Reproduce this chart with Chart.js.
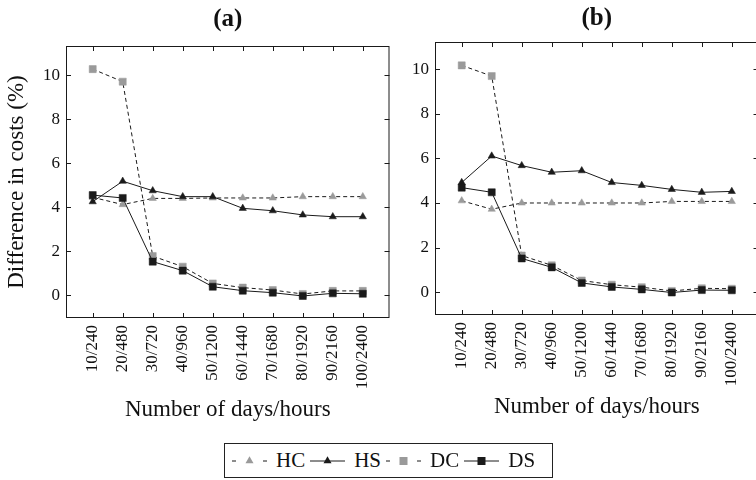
<!DOCTYPE html>
<html>
<head>
<meta charset="utf-8">
<script src="https://cdn.jsdelivr.net/npm/chart.js@4.4.1/dist/chart.umd.min.js"></script>
<style>
  body { margin: 0; width: 756px; height: 480px; overflow: hidden; background: #fff; position: relative;
         font-family: 'Liberation Serif', serif; }
  canvas { position: absolute; top: 0; }
  #chartA { left: 0; }
  #chartB { left: 376px; }
  #legend { position: absolute; left: 224px; top: 443px; width: 329px; height: 35px; border: 1px solid #222;
            display: flex; align-items: center; font-size: 21px; color: #111; box-sizing: border-box; padding-left: 7px; }
  #legend svg { flex: none; margin-right: 9px; }
  #legend span { margin-right: 5px; }
</style>
</head>
<body>
<canvas id="chartA" width="395" height="440"></canvas>
<canvas id="chartB" width="388" height="440"></canvas>
<div id="legend"></div>
<script>
// x categories and y ticks
const labels = ['10/240', '20/480', '30/720', '40/960', '50/1200', '60/1440', '70/1680', '80/1920', '90/2160', '100/2400'];
const yTicks = [0, 2, 4, 6, 8, 10];

// panel (a)
const hcA = [4.45, 4.12, 4.4, 4.4, 4.42, 4.42, 4.42, 4.48, 4.48, 4.48];
const hsA = [4.25, 5.18, 4.75, 4.48, 4.48, 3.95, 3.84, 3.65, 3.57, 3.57];
const dcA = [10.27, 9.7, 1.78, 1.3, 0.54, 0.35, 0.24, 0.06, 0.2, 0.2];
const dsA = [4.55, 4.42, 1.53, 1.12, 0.39, 0.21, 0.12, -0.03, 0.09, 0.07];

// panel (b)
const hcB = [4.1, 3.72, 4.0, 4.0, 4.0, 4.0, 4.0, 4.07, 4.07, 4.07];
const hsB = [4.92, 6.11, 5.68, 5.38, 5.45, 4.92, 4.79, 4.61, 4.48, 4.52];
const dcB = [10.18, 9.7, 1.64, 1.2, 0.52, 0.33, 0.22, 0.05, 0.17, 0.15];
const dsB = [4.69, 4.48, 1.51, 1.11, 0.41, 0.23, 0.12, -0.02, 0.09, 0.08];

const GRAY = '#9a9a9a';
const INK = '#1a1a1a';
Chart.defaults.font.family = "'Liberation Serif', serif";
Chart.defaults.color = '#111';

// box around the plot and inward ticks on all four sides
const frame = {
    id: 'frame',
    afterDatasetsDraw(chart) {
        const { ctx, chartArea: a, scales: { x, y } } = chart;
        ctx.save();
        ctx.strokeStyle = INK;
        ctx.lineWidth = 1;
        ctx.strokeRect(a.left + 0.5, a.top + 0.5, a.right - a.left - 1, a.bottom - a.top - 1);
        ctx.beginPath();
        x.ticks.forEach(t => {
            const px = Math.round(x.getPixelForValue(t.value)) + 0.5;
            ctx.moveTo(px, a.top); ctx.lineTo(px, a.top + 5);
            ctx.moveTo(px, a.bottom); ctx.lineTo(px, a.bottom - 5);
        });
        y.ticks.forEach(t => {
            const py = Math.round(y.getPixelForValue(t.value)) + 0.5;
            ctx.moveTo(a.left, py); ctx.lineTo(a.left + 5, py);
            ctx.moveTo(a.right, py); ctx.lineTo(a.right - 5, py);
        });
        ctx.stroke();
        ctx.restore();
    }
};

function series(values, gray, dashed, style, order) {
    return {
        data: values.map((v, i) => ({ x: i, y: v })),
        borderColor: INK,
        borderWidth: 1,
        borderDash: dashed ? [4, 3] : [],
        pointStyle: style,
        pointRadius: style === 'rect' ? 5 : 4.2,
        pointBackgroundColor: gray ? GRAY : INK,
        pointBorderColor: gray ? GRAY : INK,
        pointBorderWidth: 0.5,
        tension: 0,
        order: order
    };
}

function makeChart(id, title, data, cfg) {
    return new Chart(document.getElementById(id), {
        type: 'line',
        data: {
            datasets: [
                series(data[0], true, true, 'triangle', 4),
                series(data[1], false, false, 'triangle', 3),
                series(data[2], true, true, 'rect', 2),
                series(data[3], false, false, 'rect', 1)
            ]
        },
        options: {
            responsive: false,
            devicePixelRatio: 1,
            animation: false,
            events: [],
            layout: { padding: { left: 0, right: 1, top: 0, bottom: 0 } },
            plugins: {
                legend: { display: false },
                tooltip: { enabled: false },
                title: {
                    display: true, text: title, fullSize: false,
                    font: { size: 25, weight: 'bold', lineHeight: 1.2 },
                    padding: cfg.titlePad
                }
            },
            scales: {
                x: {
                    type: 'linear', min: -0.89, max: 9.89,
                    afterBuildTicks: s => { s.ticks = labels.map((l, i) => ({ value: i })); },
                    afterFit: s => { s.height = cfg.xHeight; },
                    grid: { display: false, drawTicks: false },
                    border: { display: false },
                    ticks: { callback: v => labels[v], minRotation: 90, maxRotation: 90, padding: 7,
                             font: { size: 17 }, autoSkip: false },
                    title: { display: true, text: 'Number of days/hours', font: { size: 23, lineHeight: 1.2 },
                             padding: { top: 0, bottom: cfg.xTitleBottom } }
                },
                y: {
                    min: -1.03, max: cfg.yMax,
                    afterBuildTicks: s => { s.ticks = yTicks.map(v => ({ value: v })); },
                    afterFit: s => { s.width = cfg.yWidth; },
                    grid: { display: false, drawTicks: false },
                    border: { display: false },
                    ticks: { padding: 6, font: { size: 17 } },
                    title: { display: cfg.yTitle, text: 'Difference in costs (%)', font: { size: 23, lineHeight: 1.2 },
                             padding: { top: 3.5, bottom: 0 } }
                }
            }
        },
        plugins: [frame]
    });
}

makeChart('chartA', '(a)', [hcA, hsA, dcA, dsA],
    { titlePad: { top: 5, bottom: 11 }, xHeight: 122, xTitleBottom: 16, yMax: 11.32, yWidth: 66, yTitle: true });
makeChart('chartB', '(b)', [hcB, hsB, dcB, dsB],
    { titlePad: { top: 4, bottom: 8 }, xHeight: 125, xTitleBottom: 19, yMax: 11.23, yWidth: 59, yTitle: false });

// shared legend
const legendItems = [
    { name: 'HC', dashed: true, gray: true, shape: 'tri' },
    { name: 'HS', dashed: false, gray: false, shape: 'tri' },
    { name: 'DC', dashed: true, gray: true, shape: 'sq' },
    { name: 'DS', dashed: false, gray: false, shape: 'sq' }
];
const legend = document.getElementById('legend');
legendItems.forEach(item => {
    const w = 35, c = w / 2, fill = item.gray ? GRAY : INK;
    const line = item.dashed
        ? `<line x1="0" y1="10" x2="4" y2="10" stroke="${INK}"/><line x1="${w - 4}" y1="10" x2="${w}" y2="10" stroke="${INK}"/>`
        : `<line x1="0" y1="10" x2="${w}" y2="10" stroke="${INK}"/>`;
    const mark = item.shape === 'tri'
        ? `<polygon points="${c - 4},12.3 ${c + 4},12.3 ${c},5.3" fill="${fill}"/>`
        : `<rect x="${c - 4}" y="6" width="8" height="8" fill="${fill}"/>`;
    legend.insertAdjacentHTML('beforeend',
        `<svg width="${w}" height="20" viewBox="0 0 ${w} 20">${line}${mark}</svg><span>${item.name}</span>`);
});
</script>
</body>
</html>
